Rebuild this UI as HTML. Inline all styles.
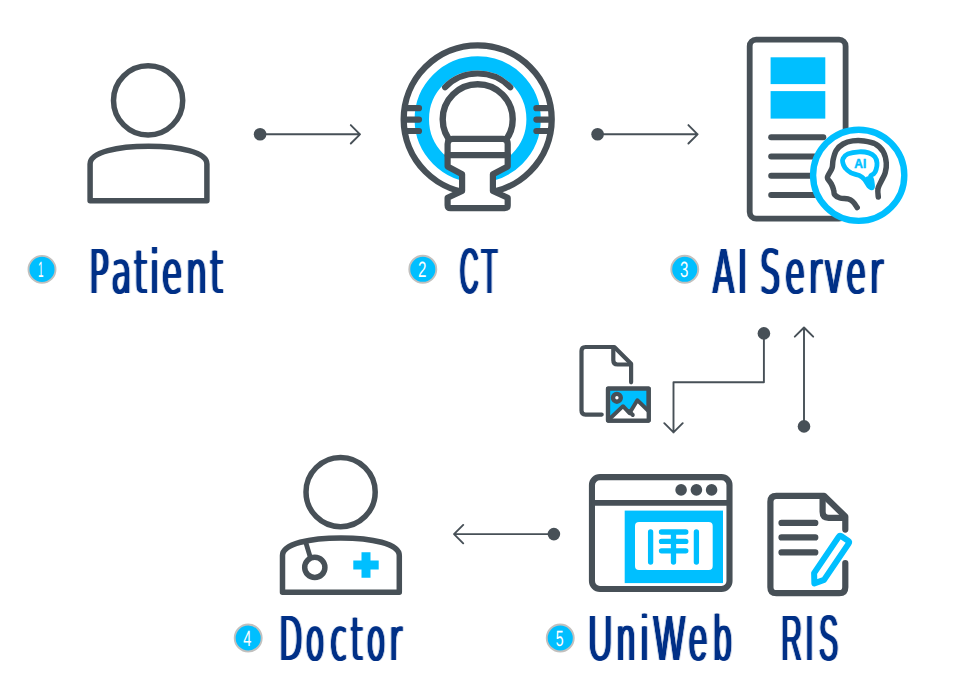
<!DOCTYPE html>
<html lang="en">
<head>
<meta charset="utf-8">
<title>AI workflow</title>
<style>
html,body{margin:0;padding:0;background:#fff;}
body{width:957px;height:688px;overflow:hidden;}
svg{display:block;}
.f{font-family:"Liberation Sans",sans-serif;}
.d{font-family:"DejaVu Sans","Liberation Sans",sans-serif;}
</style>
</head>
<body>
<svg width="957" height="688" viewBox="0 0 957 688">
<defs><filter id="fat" x="-5%" y="-10%" width="110%" height="120%" color-interpolation-filters="sRGB"><feOffset in="SourceGraphic" dy="1" result="s1"/><feComposite in="SourceGraphic" in2="s1" operator="in" result="e"/><feOffset in="e" dx="-1" result="a"/><feOffset in="e" dx="1" result="b"/><feColorMatrix in="e" type="matrix" values="1 0 0 0 0 0 1 0 0 0 0 0 1 0 0 0 0 0 0.20 0" result="h"/><feOffset in="h" dx="-2" result="c"/><feOffset in="h" dx="2" result="d"/><feMerge><feMergeNode in="c"/><feMergeNode in="d"/><feMergeNode in="a"/><feMergeNode in="b"/><feMergeNode in="e"/></feMerge></filter></defs>
<rect width="957" height="688" fill="#fff"/>
<g fill="none" stroke="#475057" stroke-width="5.5" stroke-linejoin="round" stroke-linecap="round">
<circle cx="148.1" cy="100.4" r="34.6"/>
<path d="M90.1 200.7V164C90.1 152 118 146.3 148.5 146.3C179 146.3 206.9 152 206.9 164V200.7Z"/>
<circle cx="340.6" cy="492.1" r="34.6"/>
<path d="M282.5 592.3V555.6C282.5 543.6 310.4 537.9 340.9 537.9C371.4 537.9 399.3 543.6 399.3 555.6V592.3Z"/>
<circle cx="314.8" cy="567.4" r="10.1"/>
<path d="M305.5 541.5L310.5 558" stroke-width="4.8"/>
</g>
<path d="M361.5 552.3h9v8.2h8.2v9h-8.2v8.2h-9v-8.2h-8.2v-9h8.2z" fill="#00BFFF"/>
<g fill="none" stroke="#475057" stroke-width="1.9" stroke-linejoin="round" stroke-linecap="round">
<path d="M260 134.3H360M350.8 125.1L360 134.3L350.8 143.5"/>
<path d="M597.6 134.3H697.6M688.4 125.1L697.6 134.3L688.4 143.5"/>
<path d="M553.9 534.1H454M463.2 524.9L454 534.1L463.2 543.3"/>
<path d="M763.9 333.4V382.3H673.5V432.4M664.3 423.2L673.5 432.4L682.7 423.2"/>
<path d="M804 426.4V327.5M794.8 336.7L804 327.5L813.2 336.7"/>
</g>
<g fill="#475057">
<circle cx="260.1" cy="134.2" r="6.3"/>
<circle cx="597.6" cy="134.2" r="6.3"/>
<circle cx="553.9" cy="534.1" r="6.3"/>
<circle cx="763.9" cy="333.4" r="6.3"/>
<circle cx="804" cy="426.4" r="6.3"/>
</g>
<circle cx="477.7" cy="119.3" r="55.9" fill="none" stroke="#00BFFF" stroke-width="14.4"/>
<g fill="none" stroke="#475057" stroke-width="6.2" stroke-linejoin="round" stroke-linecap="round">
<circle cx="477.7" cy="119.3" r="74" stroke-width="6.3"/>
<circle cx="477.7" cy="119.3" r="35" stroke-width="6.4"/>
<path d="M445 87.3A45.75 45.75 0 0 1 510.4 87.3" stroke-width="6"/>
<path d="M406 108.2H419M536.4 108.2H549.4"/>
<path d="M406 119.6H419M536.4 119.6H549.4"/>
<path d="M406 131H419M536.4 131H549.4"/>
<path d="M452.6 138.9H502.7Q507.7 138.9 507.7 143.9V166.4L492.9 174.2V191L507.7 197.8V205.2Q507.7 208.2 504.7 208.2H450.6Q447.6 208.2 447.6 205.2V197.8L462.1 191V174.2L447.6 166.4V143.9Q447.6 138.9 452.6 138.9Z" fill="#fff"/>
<path d="M447.6 155.1H507.7"/>
</g>
<rect x="749.7" y="39.7" width="95.9" height="178.9" rx="6.5" fill="#fff" stroke="#475057" stroke-width="5.8"/>
<rect x="770.6" y="57.3" width="54.7" height="26.8" fill="#00BFFF"/>
<rect x="770.6" y="91.1" width="54.7" height="27.5" fill="#00BFFF"/>
<g fill="none" stroke="#475057" stroke-width="6" stroke-linecap="round">
<path d="M771.2 137.3H823.3"/>
<path d="M771.2 156.6H823.3"/>
<path d="M771.2 175.8H823.3"/>
<path d="M771.2 195.1H823.3"/>
</g>
<circle cx="858.7" cy="175.3" r="45.6" fill="#fff" stroke="#00BFFF" stroke-width="6.4"/>
<path d="M878.3 197.0C878.2 195.6 877.4 191.4 878.0 188.7C878.5 186.0 880.3 183.4 881.5 180.7C882.7 178.1 884.4 175.7 885.2 172.7C886.0 169.8 886.6 166.6 886.3 163.1C886.0 159.7 885.2 155.2 883.4 152.0C881.6 148.8 878.7 145.8 875.4 144.0C872.2 142.1 867.7 141.4 863.9 140.9C860.1 140.4 856.2 140.4 852.7 140.9C849.3 141.4 845.9 142.4 843.1 144.0C840.4 145.5 838.0 147.7 836.3 150.4C834.6 153.0 833.8 157.0 833.1 159.9C832.4 162.9 832.9 165.4 832.1 167.9C831.3 170.5 829.1 173.4 828.3 175.1C827.5 176.9 827.0 176.9 827.5 178.3C828.0 179.8 830.3 181.9 831.3 183.9C832.4 185.9 833.2 188.5 833.7 190.3C834.3 192.1 833.6 193.5 834.7 194.8C835.7 196.1 837.7 197.3 839.9 198.0C842.2 198.7 845.8 198.4 847.9 198.9C850.1 199.5 851.2 200.1 852.7 201.5C854.3 202.9 856.5 206.6 857.2 207.6" fill="none" stroke="#475057" stroke-width="5.5" stroke-linecap="round" stroke-linejoin="round"/>
<path d="M843.1 158.4C844.0 156.9 845.3 155.0 847.9 153.9C850.6 152.8 855.7 152.0 859.1 151.8C862.6 151.6 866.1 152.1 868.7 152.9C871.3 153.7 873.4 155.0 874.8 156.8C876.2 158.5 876.8 161.0 877.0 163.1C877.2 165.3 876.6 167.8 876.1 169.5C875.6 171.3 874.9 172.5 874.0 173.5C873.1 174.6 871.0 174.7 870.6 175.9C870.3 177.1 871.6 178.9 871.9 180.7C872.2 182.6 872.9 186.2 872.4 187.1C871.9 188.0 870.4 187.6 869.0 186.3C867.7 185.0 865.9 180.9 864.2 179.1C862.6 177.3 861.3 176.5 859.1 175.4C856.9 174.4 853.5 174.1 851.1 172.9C848.8 171.6 846.5 169.7 845.1 167.9C843.7 166.2 843.0 163.9 842.7 162.3C842.3 160.7 842.3 159.8 843.1 158.4Z" fill="none" stroke="#00BFFF" stroke-width="4.8" stroke-linecap="round" stroke-linejoin="round"/>
<path d="M867.9 178.8C868.3 179.6 869.7 181.9 870.3 183.4C870.9 184.9 871.5 187.0 871.7 187.8" fill="none" stroke="#00BFFF" stroke-width="5" stroke-linecap="round" stroke-linejoin="round"/>
<text x="860.3" y="167.7" text-anchor="middle" font-size="13.2" font-weight="bold" fill="#00BFFF" stroke="#00BFFF" stroke-width="0.5" class="f" textLength="12" lengthAdjust="spacingAndGlyphs">AI</text>
<g fill="none" stroke="#475057" stroke-width="4.2" stroke-linejoin="round" stroke-linecap="round">
<path d="M601.7 414.6H585.5Q581.5 414.6 581.5 410.6V351Q581.5 347 585.5 347H614.3L631.1 363.8V382.3"/>
<path d="M613.3 347.5V360.3Q613.3 364.5 617.5 364.5H631"/>
<rect x="608" y="388.5" width="40.7" height="32.1" fill="#00BFFF"/>
<path d="M609.5 419L623 406.5L629 412.5L637.3 400.5L648.5 411V420.5H609.5Z" fill="#fff" stroke="none"/>
<path d="M609.5 419L623 406.2L629.5 413.2L637.3 400.2L648.5 411" stroke-width="3.9"/>
<path d="M628.8 411L632.8 415" stroke-width="3.9"/>
<rect x="608" y="388.5" width="40.7" height="32.1"/>
<circle cx="616.9" cy="397.8" r="3.9" fill="#fff" stroke-width="4.4"/>
</g>
<rect x="624.7" y="510.6" width="98.3" height="72.5" fill="#00BFFF"/>
<rect x="635" y="522.1" width="77.7" height="47.9" rx="4" fill="#fff"/>
<g fill="none" stroke="#00BFFF" stroke-width="5.3" stroke-linecap="round">
<path d="M650.6 532V562M696.4 532V562M673.5 532V562M661.5 532H685.8M661.5 541.4H685.8M661.5 550.8H685.8"/>
</g>
<g fill="none" stroke="#475057" stroke-width="6.1" stroke-linejoin="round">
<rect x="591.95" y="477.15" width="137.55" height="111.8" rx="8"/>
<path d="M591.95 502.9H729.5" stroke-width="5.8"/>
</g>
<g fill="#475057">
<circle cx="681.1" cy="489.9" r="5.8"/>
<circle cx="696.4" cy="489.9" r="5.8"/>
<circle cx="711.6" cy="489.9" r="5.8"/>
</g>
<g fill="none" stroke="#475057" stroke-width="6.2" stroke-linejoin="round" stroke-linecap="round">
<path d="M845.3 529.6V516.5L824 495.8H776.4Q770.4 495.8 770.4 501.8V587.2Q770.4 593.2 776.4 593.2H839.3Q845.3 593.2 845.3 587.2V563"/>
<path d="M822.6 496.5V511.8Q822.6 517.8 828.6 517.8H845"/>
<path d="M781.5 522.9H815.3M781.5 537.4H815.3M781.5 552.4H815.3"/>
</g>
<g transform="translate(844.3,539.2) rotate(34.1)"><path d="M-6 1.2Q-6 -0.8 -4 -0.8H4Q6 -0.8 6 1.2V45L0 53.4L-6 45Z" fill="#fff" stroke="#00BFFF" stroke-width="6" stroke-linejoin="round"/></g>
<circle cx="42.0" cy="269.4" r="13.5" fill="#00BFFF" stroke="#c2c0be" stroke-width="1.9"/>
<text class="f" transform="translate(37.94,277.2) scale(0.4513,1)" x="0.0" y="0" font-size="22.1" fill="#fff" text-rendering="geometricPrecision">1</text>
<circle cx="422.8" cy="269.3" r="13.5" fill="#00BFFF" stroke="#c2c0be" stroke-width="1.9"/>
<text class="f" transform="translate(417.94,277.2) scale(0.6853,1)" x="0.0" y="0" font-size="22.1" fill="#fff" text-rendering="geometricPrecision">2</text>
<circle cx="684.75" cy="269.3" r="13.5" fill="#00BFFF" stroke="#c2c0be" stroke-width="1.9"/>
<text class="f" transform="translate(680.03,277.2) scale(0.6824,1)" x="0.0" y="0" font-size="22.1" fill="#fff" text-rendering="geometricPrecision">3</text>
<circle cx="248.2" cy="638.0" r="13.5" fill="#00BFFF" stroke="#c2c0be" stroke-width="1.9"/>
<text class="f" transform="translate(243.26,645.9) scale(0.6609,1)" x="0.0" y="0" font-size="22.1" fill="#fff" text-rendering="geometricPrecision">4</text>
<circle cx="560.25" cy="638.0" r="13.5" fill="#00BFFF" stroke="#c2c0be" stroke-width="1.9"/>
<text class="f" transform="translate(555.74,645.9) scale(0.6356,1)" x="0.0" y="0" font-size="22.1" fill="#fff" text-rendering="geometricPrecision">5</text>
<g filter="url(#fat)"><text class="d" transform="translate(89.13,293) scale(0.5255,1)" x="0.0 42.7 85.7 115.9 138.6 184.8 230.6" y="0" font-size="61.7204" fill="#003087" text-rendering="geometricPrecision">Patient</text></g>
<g filter="url(#fat)"><text class="f" transform="translate(459.73,293) scale(0.3981,1)" x="0.0 54.6" y="0" font-size="65.4" fill="#003087" text-rendering="geometricPrecision">CT</text></g>
<g filter="url(#fat)"><text class="d" transform="translate(712.63,293) scale(0.5107,1)" x="0.0 49.4 67.6 93.3 142.0 188.6 218.7 261.6 308.0" y="0" font-size="61.7204" fill="#003087" text-rendering="geometricPrecision">AI Server</text></g>
<g filter="url(#fat)"><text class="d" transform="translate(279.16,660) scale(0.4884,1)" x="0.0 54.4 104.8 146.6 179.3 225.8" y="0" font-size="61.7204" fill="#003087" text-rendering="geometricPrecision">Doctor</text></g>
<g filter="url(#fat)"><text class="f" transform="translate(588.24,660) scale(0.5107,1)" x="0.0 55.7 102.9 127.6 196.6 244.6" y="0" font-size="65.4" fill="#003087" text-rendering="geometricPrecision">UniWeb</text></g>
<g filter="url(#fat)"><text class="f" transform="translate(781.19,660) scale(0.4374,1)" x="0.0 55.5 86.5" y="0" font-size="65.4" fill="#003087" text-rendering="geometricPrecision">RIS</text></g>
</svg>
</body>
</html>
